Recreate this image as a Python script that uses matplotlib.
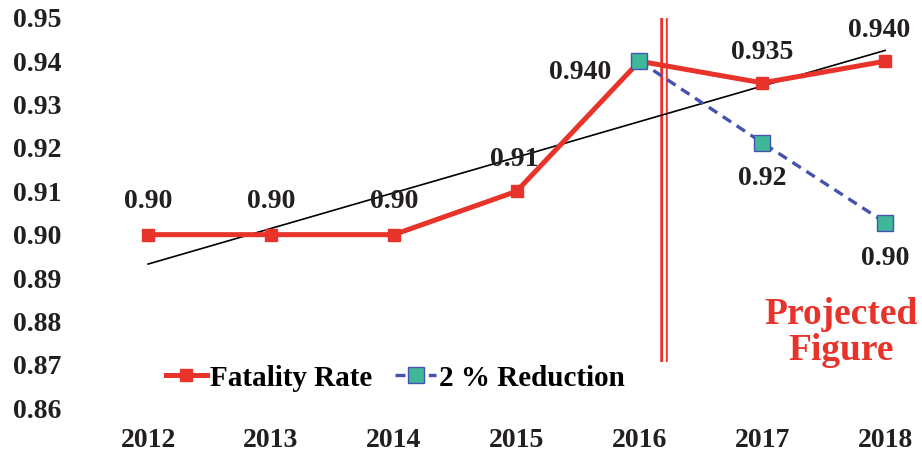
import numpy as np
import matplotlib
matplotlib.use("Agg")
import matplotlib.pyplot as plt

years = ["2012", "2013", "2014", "2015", "2016", "2017", "2018"]
fatality = [0.90, 0.90, 0.90, 0.91, 0.94, 0.935, 0.94]
fatality_labels = ["0.90", "0.90", "0.90", "0.91", "0.940", "0.935", "0.940"]
reduction_years = ["2016", "2017", "2018"]
reduction = [0.94, 0.9212, 0.9028]
reduction_labels = ["0.92", "0.90"]
y_ticks = [0.86, 0.87, 0.88, 0.89, 0.90, 0.91, 0.92, 0.93, 0.94, 0.95]

plt.rcParams["font.family"] = ["Liberation Serif", "DejaVu Serif"]
plt.rcParams["font.weight"] = "bold"

RED = "#e8332b"
BLUE = "#4651b0"
TEAL = "#3fb89a"
TXT = "#231f20"

fig = plt.figure(figsize=(9.22, 4.58), dpi=100)
ax = fig.add_axes([0.094, 0.109, 0.906, 0.852])

x = np.arange(len(years))
xr = np.array([years.index(y) for y in reduction_years])

# linear trend of the fatality rate
k, b = np.polyfit(x, fatality, 1)
ax.plot(x, k * x + b, color="black", lw=1.2, zorder=2)

ax.plot(x, fatality, color=RED, lw=3.6, marker="s", ms=8,
        mfc=RED, mec=RED, label="Fatality Rate", zorder=3)
ax.plot(xr, reduction, color=BLUE, lw=2.4, ls=(0, (3, 2)), marker="s", ms=11,
        mfc=TEAL, mec=BLUE, mew=1.0, label="2 % Reduction", zorder=4)

# divider between actual and projected years
ax.plot([4.2, 4.2], [0.8706, 0.9502], color=RED, lw=5.4, zorder=1,
        solid_capstyle="butt")
ax.plot([4.2, 4.2], [0.8706, 0.9502], color="white", lw=2.0, zorder=1,
        solid_capstyle="butt")

fs = 20
offsets = [(0, 24), (0, 24), (0, 24), (-2, 23), (-43, -8), (0, 22), (-4, 22)]
for i, (v, lab) in enumerate(zip(fatality, fatality_labels)):
    ax.annotate(lab, (x[i], v), xytext=offsets[i], textcoords="offset points",
                ha="center", va="center", fontsize=fs, color=TXT)
for i, lab in zip(xr[1:], reduction_labels):
    v = reduction[list(xr).index(i)]
    ax.annotate(lab, (i, v), xytext=(0, -26), textcoords="offset points",
                ha="center", va="center", fontsize=fs, color=TXT)

ax.text(5.64, 0.8775, "Projected\nFigure", color=RED, fontsize=27,
        ha="center", va="center", linespacing=1.05)

ax.set_xlim(-0.5, 6.3)
ax.set_ylim(0.86, 0.95)
ax.set_xticks(x)
ax.set_xticklabels(years)
ax.set_yticks(y_ticks)
ax.set_yticklabels([f"{t:.2f}" for t in y_ticks])
ax.tick_params(length=0, labelsize=20, colors=TXT)
ax.tick_params(axis="x", pad=14)
ax.tick_params(axis="y", pad=18)
for s in ax.spines.values():
    s.set_visible(False)

ax.legend(loc="center left", bbox_to_anchor=(0.095, 0.077), frameon=False,
          fontsize=21, handlelength=1.4, handletextpad=0.1, columnspacing=0.8,
          ncol=2, borderaxespad=0, borderpad=0)

fig.savefig("out.png", dpi=100)
